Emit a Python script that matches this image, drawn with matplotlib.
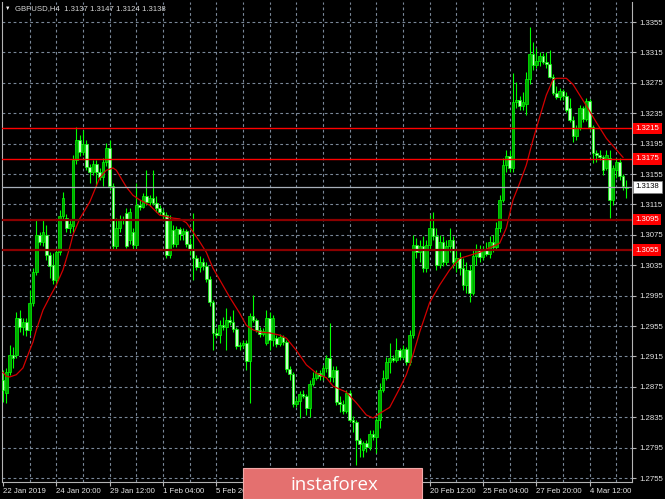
import matplotlib
matplotlib.use("Agg")
import matplotlib.pyplot as plt
from matplotlib.patches import Rectangle
from matplotlib.transforms import blended_transform_factory
import numpy as np

plt.rcParams["font.family"] = ["Liberation Sans", "DejaVu Sans"]

# GBPUSD H4 candles, 22 Jan 2019 04:00 .. 6 Mar 2019 08:00
open_ = [
    1.2884, 1.2867, 1.2894, 1.2917, 1.2917, 1.2965, 1.2954, 1.2960, 1.2950, 1.2985,
    1.3026, 1.3075, 1.3066, 1.3075, 1.3048, 1.3035, 1.3016, 1.3052, 1.3100, 1.3097,
    1.3084, 1.3087, 1.3173, 1.3200, 1.3184, 1.3194, 1.3164, 1.3158, 1.3168, 1.3158,
    1.3151, 1.3171, 1.3189, 1.3139, 1.3060, 1.3084, 1.3094, 1.3104, 1.3068, 1.3079,
    1.3062, 1.3114, 1.3112, 1.3126, 1.3118, 1.3123, 1.3117, 1.3110, 1.3105, 1.3101,
    1.3048, 1.3081, 1.3063, 1.3083, 1.3076, 1.3080, 1.3063, 1.3056, 1.3044, 1.3033,
    1.3039, 1.3034, 1.3017, 1.2986, 1.2946, 1.2943, 1.2956, 1.2954, 1.2963, 1.2960,
    1.2951, 1.2929, 1.2930, 1.2933, 1.2909, 1.2968, 1.2963, 1.2950, 1.2944, 1.2933,
    1.2965, 1.2937, 1.2939, 1.2931, 1.2940, 1.2934, 1.2898, 1.2892, 1.2852, 1.2856,
    1.2866, 1.2863, 1.2847, 1.2879, 1.2887, 1.2893, 1.2889, 1.2900, 1.2913, 1.2888,
    1.2897, 1.2855, 1.2852, 1.2843, 1.2867, 1.2831, 1.2829, 1.2805, 1.2792, 1.2801,
    1.2796, 1.2813, 1.2809, 1.2831, 1.2871, 1.2887, 1.2908, 1.2913, 1.2910, 1.2923,
    1.2914, 1.2925, 1.2908, 1.2943, 1.3062, 1.3052, 1.3060, 1.3031, 1.3062, 1.3084,
    1.3073, 1.3035, 1.3066, 1.3039, 1.3060, 1.3068, 1.3039, 1.3044, 1.3031, 1.3009,
    1.3029, 1.2999, 1.3047, 1.3055, 1.3046, 1.3055, 1.3050, 1.3066, 1.3059, 1.3084,
    1.3121, 1.3167, 1.3179, 1.3163, 1.3250, 1.3252, 1.3245, 1.3247, 1.3280, 1.3313,
    1.3298, 1.3304, 1.3310, 1.3302, 1.3300, 1.3283, 1.3262, 1.3256, 1.3264, 1.3258,
    1.3242, 1.3226, 1.3205, 1.3216, 1.3242, 1.3227, 1.3251, 1.3217, 1.3183, 1.3180,
    1.3177, 1.3163, 1.3176, 1.3121, 1.3160, 1.3171, 1.3152, 1.3137,
]
high = [
    1.2897, 1.2900, 1.2930, 1.2927, 1.2973, 1.2976, 1.2965, 1.2965, 1.3002, 1.3031,
    1.3094, 1.3079, 1.3094, 1.3088, 1.3052, 1.3051, 1.3058, 1.3108, 1.3131, 1.3102,
    1.3094, 1.3180, 1.3217, 1.3206, 1.3213, 1.3200, 1.3168, 1.3173, 1.3173, 1.3163,
    1.3176, 1.3196, 1.3200, 1.3143, 1.3097, 1.3101, 1.3100, 1.3110, 1.3110, 1.3084,
    1.3143, 1.3121, 1.3130, 1.3160, 1.3127, 1.3160, 1.3126, 1.3114, 1.3109, 1.3105,
    1.3101, 1.3088, 1.3087, 1.3085, 1.3084, 1.3083, 1.3071, 1.3104, 1.3048, 1.3047,
    1.3044, 1.3039, 1.3021, 1.2989, 1.2953, 1.2963, 1.2967, 1.2979, 1.2968, 1.2976,
    1.2954, 1.2934, 1.2937, 1.2937, 1.2972, 1.2996, 1.2965, 1.2954, 1.2953, 1.2976,
    1.2973, 1.2969, 1.2943, 1.2944, 1.2943, 1.2937, 1.2902, 1.2894, 1.2860, 1.2870,
    1.2871, 1.2866, 1.2884, 1.2894, 1.2897, 1.2897, 1.2904, 1.2917, 1.2959, 1.2902,
    1.2902, 1.2863, 1.2858, 1.2871, 1.2871, 1.2837, 1.2831, 1.2808, 1.2804, 1.2805,
    1.2818, 1.2818, 1.2834, 1.2880, 1.2897, 1.2914, 1.2933, 1.2917, 1.2939, 1.2926,
    1.2930, 1.2927, 1.2950, 1.3075, 1.3071, 1.3068, 1.3073, 1.3068, 1.3101, 1.3105,
    1.3084, 1.3075, 1.3073, 1.3068, 1.3084, 1.3073, 1.3055, 1.3052, 1.3044, 1.3039,
    1.3035, 1.3055, 1.3063, 1.3062, 1.3060, 1.3066, 1.3073, 1.3075, 1.3092, 1.3127,
    1.3176, 1.3187, 1.3187, 1.3288, 1.3276, 1.3258, 1.3263, 1.3289, 1.3348, 1.3329,
    1.3321, 1.3316, 1.3314, 1.3316, 1.3318, 1.3287, 1.3271, 1.3268, 1.3267, 1.3263,
    1.3255, 1.3231, 1.3219, 1.3246, 1.3245, 1.3255, 1.3254, 1.3219, 1.3187, 1.3187,
    1.3180, 1.3187, 1.3187, 1.3167, 1.3176, 1.3176, 1.3155, 1.3147,
]
low = [
    1.2855, 1.2854, 1.2891, 1.2900, 1.2913, 1.2947, 1.2943, 1.2942, 1.2943, 1.2981,
    1.3022, 1.3062, 1.3060, 1.3042, 1.3018, 1.3010, 1.3009, 1.3048, 1.3094, 1.3079,
    1.3077, 1.3079, 1.3168, 1.3179, 1.3180, 1.3160, 1.3143, 1.3154, 1.3138, 1.3147,
    1.3139, 1.3166, 1.3134, 1.3055, 1.3055, 1.3079, 1.3089, 1.3058, 1.3063, 1.3055,
    1.3058, 1.3108, 1.3110, 1.3114, 1.3113, 1.3114, 1.3105, 1.3101, 1.3096, 1.3044,
    1.3044, 1.3059, 1.3059, 1.3068, 1.3068, 1.3059, 1.3048, 1.3016, 1.3029, 1.3026,
    1.3029, 1.3013, 1.2981, 1.2923, 1.2939, 1.2933, 1.2950, 1.2923, 1.2956, 1.2947,
    1.2925, 1.2923, 1.2926, 1.2897, 1.2854, 1.2960, 1.2947, 1.2940, 1.2942, 1.2930,
    1.2923, 1.2929, 1.2927, 1.2929, 1.2930, 1.2894, 1.2884, 1.2848, 1.2848, 1.2834,
    1.2860, 1.2838, 1.2835, 1.2876, 1.2884, 1.2884, 1.2884, 1.2894, 1.2881, 1.2881,
    1.2851, 1.2842, 1.2839, 1.2840, 1.2829, 1.2816, 1.2772, 1.2783, 1.2783, 1.2789,
    1.2792, 1.2805, 1.2788, 1.2821, 1.2868, 1.2884, 1.2893, 1.2908, 1.2908, 1.2910,
    1.2912, 1.2904, 1.2904, 1.2939, 1.3044, 1.3039, 1.3026, 1.3026, 1.3055, 1.3068,
    1.3029, 1.3031, 1.3034, 1.3035, 1.3052, 1.3031, 1.3026, 1.3022, 1.3002, 1.2999,
    1.2986, 1.2996, 1.3035, 1.3039, 1.3042, 1.3047, 1.3044, 1.3052, 1.3055, 1.3079,
    1.3118, 1.3158, 1.3158, 1.3158, 1.3242, 1.3239, 1.3239, 1.3233, 1.3273, 1.3292,
    1.3295, 1.3297, 1.3300, 1.3295, 1.3281, 1.3259, 1.3254, 1.3252, 1.3252, 1.3237,
    1.3223, 1.3197, 1.3200, 1.3213, 1.3223, 1.3225, 1.3213, 1.3169, 1.3171, 1.3173,
    1.3154, 1.3160, 1.3097, 1.3114, 1.3150, 1.3147, 1.3134, 1.3124,
]
close_ = [
    1.2871, 1.2894, 1.2917, 1.2913, 1.2965, 1.2954, 1.2960, 1.2950, 1.2985, 1.3026,
    1.3075, 1.3066, 1.3079, 1.3048, 1.3034, 1.3016, 1.3052, 1.3100, 1.3123, 1.3084,
    1.3089, 1.3173, 1.3200, 1.3184, 1.3194, 1.3164, 1.3158, 1.3168, 1.3158, 1.3151,
    1.3171, 1.3189, 1.3139, 1.3060, 1.3084, 1.3094, 1.3096, 1.3060, 1.3105, 1.3062,
    1.3114, 1.3112, 1.3126, 1.3118, 1.3123, 1.3117, 1.3110, 1.3105, 1.3101, 1.3048,
    1.3094, 1.3063, 1.3083, 1.3076, 1.3080, 1.3063, 1.3056, 1.3044, 1.3033, 1.3039,
    1.3034, 1.3017, 1.2986, 1.2946, 1.2943, 1.2956, 1.2954, 1.2963, 1.2960, 1.2951,
    1.2929, 1.2930, 1.2933, 1.2909, 1.2968, 1.2963, 1.2950, 1.2944, 1.2948, 1.2965,
    1.2937, 1.2965, 1.2931, 1.2940, 1.2934, 1.2898, 1.2892, 1.2852, 1.2856, 1.2866,
    1.2863, 1.2847, 1.2879, 1.2887, 1.2893, 1.2889, 1.2900, 1.2913, 1.2888, 1.2897,
    1.2855, 1.2852, 1.2843, 1.2867, 1.2831, 1.2829, 1.2805, 1.2800, 1.2801, 1.2796,
    1.2813, 1.2809, 1.2831, 1.2871, 1.2887, 1.2908, 1.2913, 1.2910, 1.2923, 1.2914,
    1.2925, 1.2908, 1.2943, 1.3062, 1.3052, 1.3060, 1.3031, 1.3062, 1.3084, 1.3073,
    1.3035, 1.3066, 1.3039, 1.3060, 1.3068, 1.3039, 1.3044, 1.3031, 1.3009, 1.3029,
    1.2999, 1.3047, 1.3055, 1.3046, 1.3055, 1.3050, 1.3066, 1.3059, 1.3084, 1.3121,
    1.3167, 1.3179, 1.3163, 1.3250, 1.3252, 1.3245, 1.3250, 1.3280, 1.3313, 1.3298,
    1.3304, 1.3310, 1.3302, 1.3300, 1.3283, 1.3262, 1.3256, 1.3264, 1.3258, 1.3239,
    1.3226, 1.3205, 1.3216, 1.3242, 1.3227, 1.3251, 1.3217, 1.3183, 1.3180, 1.3177,
    1.3160, 1.3180, 1.3121, 1.3163, 1.3171, 1.3152, 1.3139, 1.3138,
]

# moving average (bar index, price)
ma_bar = [0, 1, 2, 4, 6, 8, 9, 10, 12, 14, 16, 18, 20, 21, 23, 26, 29, 31, 33, 34,
          37, 39, 41, 44, 47, 51, 53, 55, 57, 59, 61, 63, 65, 68, 71, 73, 75, 77, 80, 83,
          85, 88, 91, 94, 97, 99, 103, 106, 109, 111, 113, 116, 119, 121, 123, 125, 128,
          131, 134, 137, 140, 143, 146, 149, 151, 153, 155, 157, 159, 161, 163, 165, 166,
          169, 171, 173, 175, 178, 181, 184, 186]
ma_value = [1.2894, 1.2889, 1.2888, 1.2891, 1.2900, 1.2923, 1.2934, 1.2950, 1.2976, 1.2993,
            1.3009, 1.3029, 1.3058, 1.3075, 1.3096, 1.3118, 1.3150, 1.3160, 1.3163, 1.3160,
            1.3138, 1.3127, 1.3121, 1.3114, 1.3101, 1.3097, 1.3096, 1.3091, 1.3079, 1.3066,
            1.3052, 1.3031, 1.3016, 1.2993, 1.2972, 1.2956, 1.2950, 1.2947, 1.2946, 1.2943,
            1.2939, 1.2923, 1.2904, 1.2893, 1.2887, 1.2876, 1.2868, 1.2854, 1.2838, 1.2834,
            1.2840, 1.2848, 1.2873, 1.2891, 1.2917, 1.2947, 1.2986, 1.3009, 1.3029, 1.3044,
            1.3048, 1.3052, 1.3058, 1.3064, 1.3084, 1.3121, 1.3143, 1.3167, 1.3200, 1.3230,
            1.3259, 1.3279, 1.3281, 1.3281, 1.3273, 1.3259, 1.3245, 1.3223, 1.3202, 1.3187,
            1.3177]

resistance = [1.3215, 1.3175]
support = [1.3095, 1.3055]
last_price = close_[-1]

tick_labels = ["22 Jan 2019", "24 Jan 20:00", "29 Jan 12:00", "1 Feb 04:00",
               "5 Feb 20:00", "8 Feb 12:00", "13 Feb 04:00", "15 Feb 20:00",
               "20 Feb 12:00", "25 Feb 04:00", "27 Feb 20:00", "4 Mar 12:00"]

BG = "black"
GRID = "#7a8899"
AXIS = "#b4b4b4"
TEXT = "#e6e6e6"
WICK = "#00ff00"
BULL = "#00a800"
BEAR = "#c8ffc8"

W, H = 665, 499
fig = plt.figure(figsize=(W / 100, H / 100), dpi=100, facecolor=BG)
ax = fig.add_axes([2 / W, 17 / H, 630 / W, 480 / H], facecolor=BG)

o = np.array(open_)
h = np.array(high)
l = np.array(low)
c = np.array(close_)
x = np.arange(len(c))
up = c >= o

# grid
yticks = np.round(np.arange(1.2755, 1.3356, 0.004), 4)
for yv in yticks:
    ax.axhline(yv, color=GRID, lw=0.8, ls=(0, (2.5, 2.5)), zorder=1)
for xv in range(8, len(c), 8):
    ax.axvline(xv, color=GRID, lw=0.8, ls=(0, (2.5, 2.5)), zorder=1)

# candles
ax.vlines(x, l, h, color=WICK, lw=0.8, zorder=3)
bottom = np.minimum(o, c)
height = np.maximum(np.abs(c - o), 0.00006)
ax.bar(x[up], height[up], bottom=bottom[up], width=0.72, color=BULL,
       edgecolor=WICK, linewidth=0.5, zorder=4)
ax.bar(x[~up], height[~up], bottom=bottom[~up], width=0.72, color=BEAR,
       edgecolor=WICK, linewidth=0.5, zorder=4)

# moving average
ax.plot(ma_bar, ma_value, color="#d40000", lw=0.9, zorder=5)

# levels
for lv in resistance:
    ax.axhline(lv, color="#ff0000", lw=1.0, zorder=6)
for lv in support:
    ax.axhline(lv, color="#8b0000", lw=1.6, zorder=6)
ax.axhline(last_price, color="#a8b0ba", lw=0.9, zorder=6)

trans = blended_transform_factory(ax.transAxes, ax.transData)
for lv in resistance + support:
    ax.text(1.0056, lv, f"{lv:.4f}", transform=trans, ha="left", va="center",
            fontsize=5.6, color="white", clip_on=False, zorder=10,
            bbox=dict(boxstyle="square,pad=0.3", fc="#ff0000", ec="none"))
ax.text(1.0056, last_price, f"{last_price:.4f}", transform=trans, ha="left",
        va="center", fontsize=5.6, color="black", clip_on=False, zorder=10,
        bbox=dict(boxstyle="square,pad=0.3", fc="white", ec="#808080", lw=0.5))

# axes
ax.set_xlim(-0.3, 188.7)
ax.set_ylim(1.27498, 1.33814)
ax.yaxis.tick_right()
ax.set_yticks(yticks)
ax.set_yticklabels([f"{v:.4f}" for v in yticks])
ax.set_xticks(range(0, 16 * len(tick_labels), 16))
ax.set_xticklabels(tick_labels, ha="left")
ax.tick_params(axis="y", colors=AXIS, labelcolor=TEXT, labelsize=5.6,
               length=3, width=0.8, pad=2)
ax.tick_params(axis="x", colors=AXIS, labelcolor=TEXT, labelsize=5.6,
               length=3, width=0.8, pad=1.5)
ax.spines["top"].set_visible(False)
for side in ["left", "right", "bottom"]:
    ax.spines[side].set_color(AXIS)
    ax.spines[side].set_linewidth(0.8)

# header
fig.text(5 / W, 1 - 8.5 / H, "\u25bc", fontsize=4, color="white", va="center")
fig.text(15 / W, 1 - 8.5 / H,
         f"GBPUSD,H4  {open_[-1]:.4f} {high[-1]:.4f} {low[-1]:.4f} {close_[-1]:.4f}",
         fontsize=5.6, color="#d8d8d8", va="center")

# watermark
fig.add_artist(Rectangle((243 / W, 0), 179 / W, 31 / H, transform=fig.transFigure,
                         fc="#e4706f", ec="#f2a9a9", lw=0.8, zorder=20))
fig.text(290 / W, 9 / H, "instaforex", fontsize=13.5, color="white",
         family=["Open Sans", "DejaVu Sans"], va="baseline", zorder=21)

fig.savefig("out.png", dpi=100, facecolor=BG)
